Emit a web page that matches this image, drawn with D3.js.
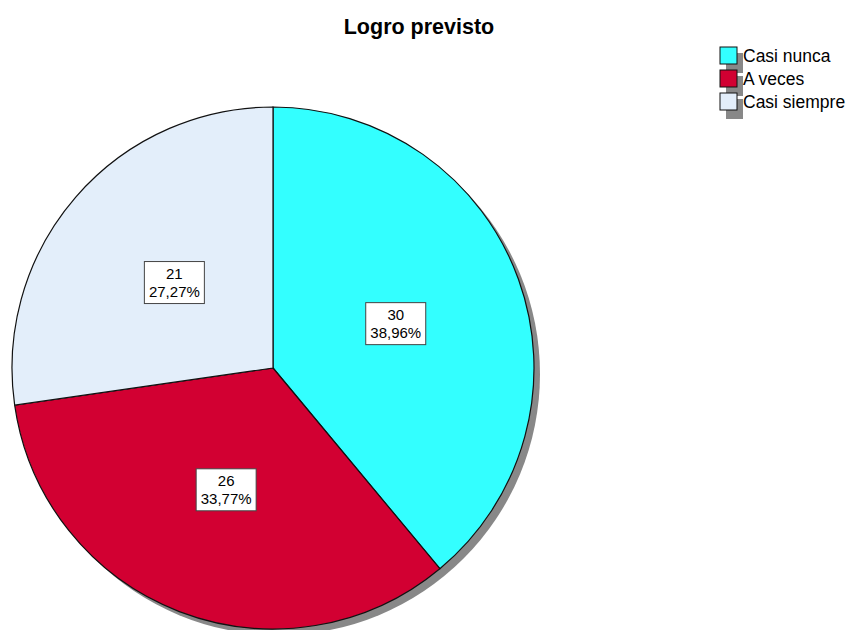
<!DOCTYPE html>
<html>
<head>
<meta charset="utf-8">
<script src="https://cdn.jsdelivr.net/npm/d3@7"></script>
<style>
  body { margin: 0; background: #fff; }
  svg { display: block; }
</style>
</head>
<body>
<svg id="chart"></svg>
<script>
// datos del gráfico
let categories = ["Casi nunca", "A veces", "Casi siempre"];
let counts = [30, 26, 21];
let percentLabels = ["38,96%", "33,77%", "27,27%"];
let colors = ["#33ffff", "#d20032", "#e3eefa"];

let width = 853;
let height = 630;
let cx = 273;
let cy = 368;
let radius = 261;
let font = "Liberation Sans, Arial, sans-serif";

let svg = d3.select("#chart")
    .attr("width", width)
    .attr("height", height);

// título
svg.append("text")
    .attr("x", 419)
    .attr("y", 34)
    .attr("text-anchor", "middle")
    .attr("font-family", font)
    .attr("font-weight", "bold")
    .attr("font-size", 21.5)
    .text("Logro previsto");

let rows = categories.map((c, i) => ({ name: c, value: counts[i], pct: percentLabels[i], color: colors[i] }));

let pie = d3.pie()
    .value(d => d.value)
    .sort(null);
let arcs = pie(rows);

let arc = d3.arc().innerRadius(0).outerRadius(radius);
let labelArc = d3.arc().innerRadius(radius * 0.5).outerRadius(radius * 0.5);

let g = svg.append("g").attr("transform", `translate(${cx}, ${cy})`);

// sombra
g.append("circle")
    .attr("cx", 6)
    .attr("cy", 6)
    .attr("r", radius)
    .attr("fill", "#888");

g.selectAll(".slice")
    .data(arcs)
    .enter()
    .append("path")
    .attr("class", "slice")
    .attr("d", arc)
    .attr("fill", d => d.data.color)
    .attr("stroke", "#111")
    .attr("stroke-width", 1.2);

// etiquetas
let labels = g.selectAll(".lbl")
    .data(arcs)
    .enter()
    .append("g")
    .attr("class", "lbl")
    .attr("transform", d => `translate(${labelArc.centroid(d)})`);

labels.append("rect")
    .attr("x", -30)
    .attr("y", -21)
    .attr("width", 60)
    .attr("height", 42)
    .attr("fill", "#fff")
    .attr("stroke", "#444")
    .attr("stroke-width", 1);

labels.append("text")
    .attr("text-anchor", "middle")
    .attr("y", -4)
    .attr("font-family", font)
    .attr("font-size", 15)
    .text(d => d.data.value);

labels.append("text")
    .attr("text-anchor", "middle")
    .attr("y", 14)
    .attr("font-family", font)
    .attr("font-size", 15)
    .text(d => d.data.pct);

// leyenda
let legend = svg.append("g").attr("transform", "translate(720, 47)");
let rowStep = 23;

legend.selectAll(".shadow")
    .data(rows)
    .enter()
    .append("rect")
    .attr("x", 6)
    .attr("y", (d, i) => i * rowStep + 6)
    .attr("width", 17)
    .attr("height", 20)
    .attr("fill", "#888");

legend.selectAll(".box")
    .data(rows)
    .enter()
    .append("rect")
    .attr("x", 0)
    .attr("y", (d, i) => i * rowStep)
    .attr("width", 17)
    .attr("height", 17)
    .attr("fill", d => d.color)
    .attr("stroke", "#111")
    .attr("stroke-width", 1);

legend.selectAll(".name")
    .data(rows)
    .enter()
    .append("text")
    .attr("x", 23)
    .attr("y", (d, i) => i * rowStep + 15)
    .attr("font-family", font)
    .attr("font-size", 17.5)
    .text(d => d.name);
</script>
</body>
</html>
